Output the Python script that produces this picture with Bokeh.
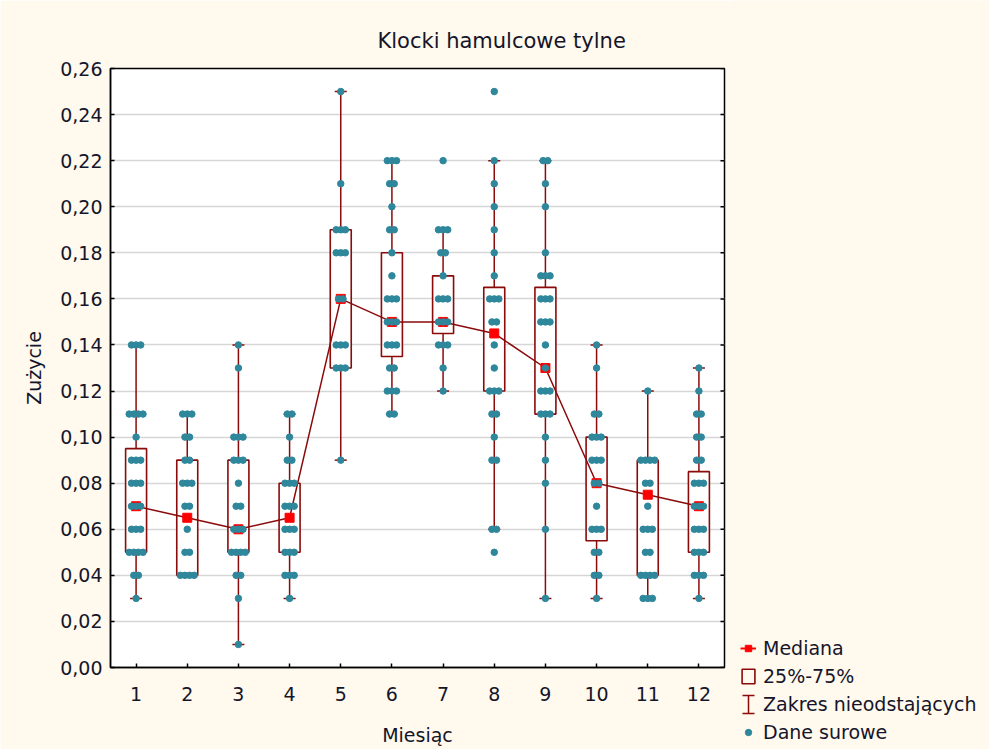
from bokeh.plotting import figure
from bokeh.layouts import row, column
from bokeh.models import (Range1d, FixedTicker, Legend, LegendItem,
                          Whisker, TeeHead, ColumnDataSource)
from bokeh.embed import file_html
from bokeh.resources import INLINE

# ---------------- data ----------------
months = [1, 2, 3, 4, 5, 6, 7, 8, 9, 10, 11, 12]
month_labels = [str(m) for m in months]

y_ticks = [0.00, 0.02, 0.04, 0.06, 0.08, 0.10, 0.12, 0.14, 0.16, 0.18, 0.20, 0.22, 0.24, 0.26]
y_tick_labels = ["0,00", "0,02", "0,04", "0,06", "0,08", "0,10", "0,12", "0,14",
                 "0,16", "0,18", "0,20", "0,22", "0,24", "0,26"]

medians = [0.07, 0.065, 0.06, 0.065, 0.16, 0.15, 0.15, 0.145, 0.13, 0.08, 0.075, 0.07]
q1 = [0.05, 0.04, 0.05, 0.05, 0.13, 0.135, 0.145, 0.12, 0.11, 0.055, 0.04, 0.05]
q3 = [0.095, 0.09, 0.09, 0.08, 0.19, 0.18, 0.17, 0.165, 0.165, 0.10, 0.09, 0.085]
whisker_low = [0.03, 0.04, 0.01, 0.03, 0.09, 0.11, 0.12, 0.06, 0.03, 0.03, 0.03, 0.03]
whisker_high = [0.14, 0.11, 0.14, 0.11, 0.25, 0.22, 0.19, 0.22, 0.22, 0.14, 0.12, 0.13]

raw_1 = [0.14]*3 + [0.11]*4 + [0.10] + [0.09]*3 + [0.08]*3 + [0.07]*3 + [0.06]*3 + [0.05]*4 + [0.04]*2 + [0.03]
raw_2 = [0.11]*3 + [0.10]*2 + [0.09]*2 + [0.08]*3 + [0.07]*2 + [0.06] + [0.05]*2 + [0.04]*4
raw_3 = [0.14, 0.13] + [0.10]*3 + [0.09]*3 + [0.08] + [0.07]*2 + [0.06]*3 + [0.05]*4 + [0.04]*2 + [0.03, 0.01]
raw_4 = [0.11]*2 + [0.10] + [0.09]*2 + [0.08]*3 + [0.07]*3 + [0.06]*3 + [0.05]*3 + [0.04]*3 + [0.03]
raw_5 = [0.25, 0.21] + [0.19]*3 + [0.18]*3 + [0.16]*2 + [0.14]*3 + [0.13]*3 + [0.09]
raw_6 = [0.22]*3 + [0.21]*2 + [0.20] + [0.19]*2 + [0.18, 0.17] + [0.16]*3 + [0.15]*3 + [0.14]*3 + [0.13]*2 + [0.12]*3 + [0.11]*2
raw_7 = [0.22] + [0.19]*3 + [0.18]*2 + [0.17] + [0.16]*3 + [0.15]*3 + [0.14]*3 + [0.13, 0.12]
raw_8 = [0.25, 0.22, 0.21, 0.20, 0.19, 0.18, 0.17] + [0.16]*3 + [0.15]*2 + [0.14, 0.13] + [0.12]*3 + [0.11]*2 + [0.10] + [0.09]*2 + [0.06]*2 + [0.05]
raw_9 = [0.22]*2 + [0.21, 0.20, 0.18] + [0.17]*3 + [0.16]*3 + [0.15]*3 + [0.14, 0.13] + [0.12]*3 + [0.11]*3 + [0.10, 0.09, 0.08, 0.06, 0.03]
raw_10 = [0.14, 0.13] + [0.11]*2 + [0.10]*3 + [0.09]*3 + [0.08]*2 + [0.07] + [0.06]*3 + [0.05]*2 + [0.04]*2 + [0.03]
raw_11 = [0.12] + [0.09]*4 + [0.08]*2 + [0.07] + [0.06]*3 + [0.05]*2 + [0.04]*4 + [0.03]*3
raw_12 = [0.13, 0.12] + [0.11]*2 + [0.10]*2 + [0.09]*2 + [0.08]*3 + [0.07]*3 + [0.06]*3 + [0.05]*3 + [0.04]*3 + [0.03]
raw_values = [raw_1, raw_2, raw_3, raw_4, raw_5, raw_6, raw_7, raw_8, raw_9, raw_10, raw_11, raw_12]

legend_labels = ["Mediana", "25%-75%", "Zakres nieodstających", "Dane surowe"]

# ---------------- styling ----------------
DARK = "#8B0A0A"
RED = "#FF0000"
TEAL = "#2F879B"
CREAM = "#FFF9EE"
TXT = "#15152A"
FONT = "DejaVu Sans"
NAN = float("nan")

X_START, X_END = 0.5, 12.5

# spread equal raw values horizontally around the month (jitter layout)
xs, ys = [], []
for m, vals in zip(months, raw_values):
    counts = {}
    for v in vals:
        counts[v] = counts.get(v, 0) + 1
    seen = {}
    for v in vals:
        n = counts[v]
        k = seen.get(v, 0)
        seen[v] = k + 1
        xs.append(m + (k - (n - 1) / 2) * 0.09)
        ys.append(v)

p = figure(width=730, height=749,
           x_range=Range1d(X_START, X_END), y_range=Range1d(0, 0.26),
           output_backend="svg", toolbar_location=None,
           min_border_left=110, min_border_right=6,
           min_border_top=68, min_border_bottom=82,
           title="Klocki hamulcowe tylne")

p.background_fill_color = "white"
p.border_fill_color = CREAM
p.outline_line_color = "black"
p.outline_line_width = 1.5

p.title.text_font = FONT
p.title.text_font_size = "21px"
p.title.text_font_style = "normal"
p.title.text_color = TXT
p.title.align = "left"
p.title.offset = 267
p.title.standoff = 32

# axes
p.xaxis.ticker = FixedTicker(ticks=months)
p.xaxis.major_label_overrides = {m: l for m, l in zip(months, month_labels)}
p.yaxis.ticker = FixedTicker(ticks=y_ticks)
p.yaxis.major_label_overrides = {t: l for t, l in zip(y_ticks, y_tick_labels)}

for ax in (p.xaxis[0], p.yaxis[0]):
    ax.major_tick_in = 4
    ax.major_tick_out = 0
    ax.minor_tick_line_color = None
    ax.axis_line_color = "black"
    ax.axis_line_width = 1.5
    ax.major_tick_line_color = "black"
    ax.major_tick_line_width = 1.5
    ax.major_label_text_font = FONT
    ax.major_label_text_font_size = "19px"
    ax.major_label_text_color = TXT
    ax.axis_label_text_font = FONT
    ax.axis_label_text_font_size = "19px"
    ax.axis_label_text_font_style = "normal"
    ax.axis_label_text_color = TXT

p.xaxis.axis_label = "Miesiąc"
p.yaxis.axis_label = "Zużycie"
p.yaxis.major_label_standoff = 8
p.yaxis.axis_label_standoff = 12
p.xaxis.major_label_standoff = 19
p.xaxis.axis_label_standoff = 20

p.xgrid.visible = False
p.ygrid.ticker = FixedTicker(ticks=y_ticks)
p.ygrid.grid_line_color = "#D6D6D6"
p.ygrid.grid_line_width = 1.5

# inward tick marks on the right edge of the frame (half of each dash is clipped)
p.scatter(x=[X_END] * len(y_ticks), y=y_ticks, marker="dash", size=8,
          line_color="black", line_width=1.5)

# glyphs
p.segment(x0=months, y0=whisker_low, x1=months, y1=whisker_high,
          line_color=DARK, line_width=1.5)
p.scatter(x=months + months, y=whisker_low + whisker_high, marker="dash",
          size=12, line_color=DARK, line_width=1.5)
p.vbar(x=months, bottom=q1, top=q3, width=0.41, fill_color="white",
       line_color=DARK, line_width=1.6)
p.line(months, medians, line_color=DARK, line_width=1.5)
p.scatter(months, medians, marker="square", size=9, fill_color=RED, line_color=RED)
p.scatter(xs, ys, marker="circle", size=6.5, fill_color=TEAL, line_color=TEAL)

# ---------------- legend panel (separate figure to the right) ----------------
lg = figure(width=259, height=749, x_range=Range1d(0, 259), y_range=Range1d(749, 0),
            x_axis_type=None, y_axis_type=None, output_backend="svg",
            toolbar_location=None, min_border=0,
            min_border_top=0, min_border_bottom=0, min_border_left=0, min_border_right=0)
lg.background_fill_color = CREAM
lg.border_fill_color = CREAM
lg.outline_line_color = None

r_med_line = lg.line(x=[NAN, NAN], y=[NAN, NAN], line_color=RED, line_width=2)
r_med_sq = lg.scatter(x=[NAN], y=[NAN], marker="square", size=9, fill_color=RED, line_color=RED)
r_box = lg.vbar(x=[NAN], bottom=[NAN], top=[NAN], width=1, fill_color=CREAM,
                line_color=DARK, line_width=1.6)
r_range = lg.scatter(x=[NAN], y=[NAN], size=0, alpha=0)
r_raw = lg.scatter(x=[NAN], y=[NAN], marker="circle", size=6, fill_color=TEAL, line_color=TEAL)

legend = Legend(items=[
    LegendItem(label=legend_labels[0], renderers=[r_med_line, r_med_sq]),
    LegendItem(label=legend_labels[1], renderers=[r_box]),
    LegendItem(label=legend_labels[2], renderers=[r_range]),
    LegendItem(label=legend_labels[3], renderers=[r_raw]),
], location=(10, 6), padding=0, margin=0, spacing=6,
    glyph_height=18, glyph_width=16, label_height=20, label_standoff=7,
    label_text_font=FONT, label_text_font_size="19px", label_text_color=TXT,
    border_line_alpha=0, background_fill_alpha=0)
lg.add_layout(legend)

ibeam_src = ColumnDataSource(dict(base=[18], lower=[695], upper=[713]))
ibeam = Whisker(source=ibeam_src, base="base", lower="lower", upper="upper",
                dimension="height", line_color=DARK, line_width=1.5,
                lower_head=TeeHead(size=12, line_color=DARK, line_width=1.5),
                upper_head=TeeHead(size=12, line_color=DARK, line_width=1.5))
lg.add_layout(ibeam)

layout = row(p, column(lg), spacing=0)
open("out.html", "w").write(file_html(layout, INLINE))
